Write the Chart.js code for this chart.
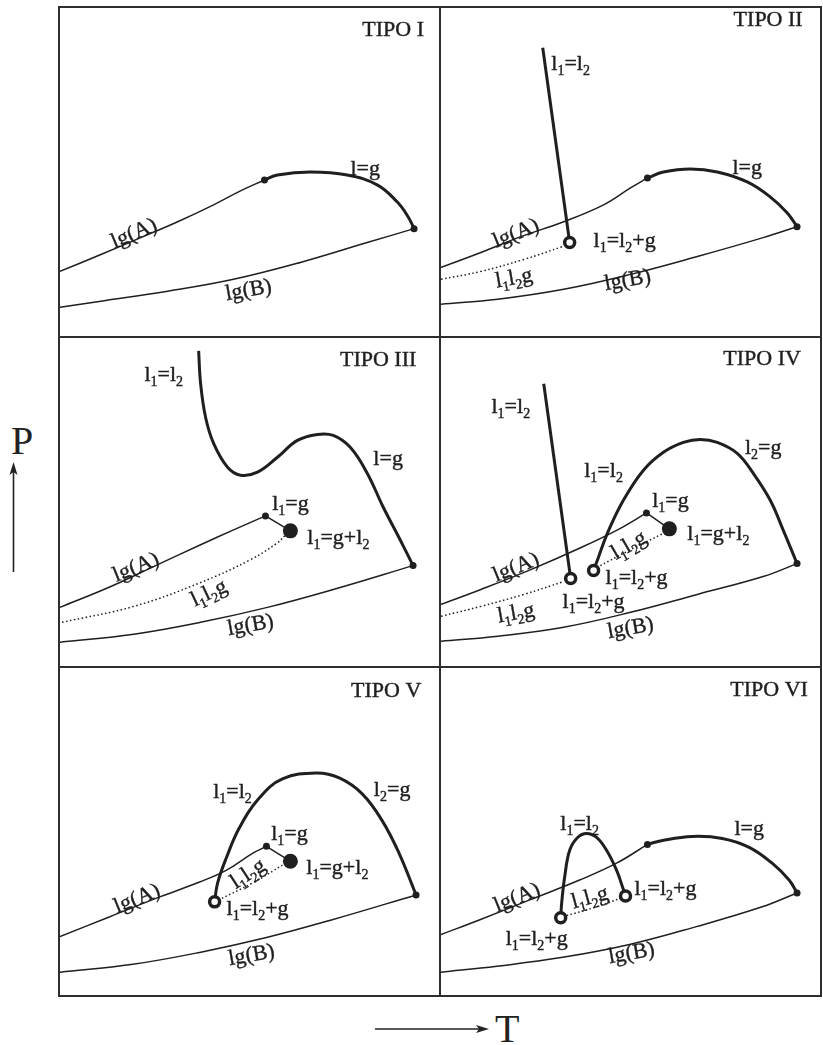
<!DOCTYPE html>
<html>
<head>
<meta charset="utf-8">
<script src="https://cdn.jsdelivr.net/npm/chart.js@4.4.0/dist/chart.umd.min.js"></script>
<style>
  body { margin: 0; background: #fff; width: 823px; height: 1045px; position: relative; overflow: hidden; font-family: 'Liberation Serif', serif; }
  #moldura { position: absolute; left: 58px; top: 6px; width: 764px; height: 991px; background: #2e2e2e; }
  .painel { position: absolute; background: #fff; }
  .painel canvas { display: block; }
  .eixo { position: absolute; color: #222; font-size: 40px; line-height: 40px; }
  svg { position: absolute; left: 0; top: 0; }
</style>
</head>
<body>
<div id="moldura"></div>
<div class="painel" style="left:60px;top:8px;width:379px;height:328px"><canvas id="tipo1"></canvas></div>
<div class="painel" style="left:441px;top:8px;width:379px;height:328px"><canvas id="tipo2"></canvas></div>
<div class="painel" style="left:60px;top:338px;width:379px;height:328px"><canvas id="tipo3"></canvas></div>
<div class="painel" style="left:441px;top:338px;width:379px;height:328px"><canvas id="tipo4"></canvas></div>
<div class="painel" style="left:60px;top:668px;width:379px;height:327px"><canvas id="tipo5"></canvas></div>
<div class="painel" style="left:441px;top:668px;width:379px;height:327px"><canvas id="tipo6"></canvas></div>

<div class="eixo" style="left:11px;top:421px">P</div>
<div class="eixo" style="left:495px;top:1009px">T</div>
<svg width="823" height="1045">
  <line x1="13.5" y1="572" x2="13.5" y2="470" stroke="#222" stroke-width="1.6"/>
  <polygon points="13.5,462 9.5,475 13.5,472 17.5,475" fill="#222"/>
  <line x1="375" y1="1029" x2="481" y2="1029" stroke="#222" stroke-width="1.6"/>
  <polygon points="489,1029 476,1025 479,1029 476,1033" fill="#222"/>
</svg>

<script>
// curvas de cada tipo: pares [T, P] em unidades arbitrárias (T 0-380, P 0-330)
var tipo1LgA = [[0,65],[41,82],[81,99],[118,115],[154,132],[181,146],[205,157]];
var tipo1LG = [[205,157],[218,162],[251,165],[288,162],[318,152],[338,135],[349,120],[355,108]];
var tipo1LgB = [[0,29],[41,35],[108,45],[174,57],[241,74],[308,94],[355,108]];
var tipo1Pontos = [[205,157],[355,108]];

var tipo2LgA = [[0,69],[40,84],[80,100],[123,115],[163,132],[190,149],[207,159]];
var tipo2LG = [[207,159],[223,165],[250,168],[277,165],[307,155],[330,140],[347,124],[357,110]];
var tipo2LgB = [[0,32],[57,37],[123,47],[190,62],[257,80],[323,99],[357,110]];
var tipo2L1L2 = [[102,290],[129,94]];
var tipo2Trifasica = [[0,57],[40,65],[83,77],[122,90]];
var tipo2Aberto = [[129,94]];
var tipo2Pontos = [[207,159],[357,110]];

var tipo3LgA = [[0,59],[51,80],[98,102],[141,122],[174,137],[206,151]];
var tipo3L1G = [[206,151],[231,136]];
var tipo3Trifasica = [[2,44],[74,60],[141,84],[191,107],[218,124],[228,134]];
var tipo3LgB = [[0,24],[74,32],[141,44],[208,59],[274,77],[354,101]];
var tipo3Critica = [[139,317],[141,284],[146,250],[154,224],[168,200],[181,192],[198,195],[218,210],[238,227],[258,233],[274,232],[291,220],[308,194],[324,160],[341,127],[354,101]];
var tipo3Pontos = [[206,151],[354,101]];
var tipo3Ucep = [[231,136]];

var tipo4LgA = [[0,62],[40,77],[90,97],[140,119],[177,137],[206,154]];
var tipo4L1G = [[206,154],[229,138]];
var tipo4TrifasicaSup = [[156,99],[190,117],[222,133]];
var tipo4LgB = [[0,25],[57,30],[123,39],[190,54],[257,72],[323,90],[357,103]];
var tipo4L1L2 = [[103,284],[130,88]];
var tipo4TrifasicaInf = [[0,50],[40,60],[83,72],[123,85]];
var tipo4Critica = [[153,96],[157,107],[167,134],[183,167],[203,197],[223,215],[243,225],[260,228],[277,225],[297,214],[313,194],[330,167],[343,137],[357,103]];
var tipo4Aberto = [[130,88],[153,96]];
var tipo4Pontos = [[206,154],[357,103]];
var tipo4Ucep = [[229,138]];

var tipo5LgA = [[0,59],[50,79],[100,99],[140,114],[167,126],[193,143],[207,150]];
var tipo5L1G = [[207,150],[231,135]];
var tipo5Trifasica = [[155,94],[193,113],[223,131]];
var tipo5Critica = [[155,94],[158,113],[167,139],[180,169],[200,199],[223,218],[257,224],[280,219],[303,203],[323,176],[340,143],[357,101]];
var tipo5LgB = [[0,23],[73,31],[140,43],[207,58],[273,76],[357,101]];
var tipo5Aberto = [[155,94]];
var tipo5Pontos = [[207,150],[357,101]];
var tipo5Ucep = [[231,135]];

var tipo6LgA = [[0,61],[39,76],[89,96],[139,116],[176,133],[207,152]];
var tipo6LG = [[207,152],[222,156],[252,160],[282,158],[309,149],[332,133],[349,116],[357,103]];
var tipo6LgB = [[0,23],[56,29],[122,38],[189,51],[256,69],[322,89],[357,103]];
var tipo6Critica = [[120,78],[121,93],[124,119],[129,146],[137,159],[146,163],[156,159],[166,146],[176,126],[182,109],[185,100]];
var tipo6Trifasica = [[122,79],[156,89],[181,98]];
var tipo6Aberto = [[120,78],[185,100]];
var tipo6Pontos = [[207,152],[357,103]];

// rótulos: texto ("_" marca índice), T, P, rotação, alinhamento
var tipo1Rotulos = [['TIPO I',334,309],['l=g',306,169],['lg(A)',74,104,-23],['lg(B)',189,47,-10]];
var tipo2Rotulos = [['TIPO II',328,319],['l_1=l_2',130,275],['l=g',307,170],['lg(A)',75,104,-22],
  ['l_1=l_2+g',153,97,0,'left'],['l_1l_2g',73,59,-10],['lg(B)',187,57,-10]];
var tipo3Rotulos = [['TIPO III',319,309],['l_1=l_2',104,294],['l=g',329,209],['l_1=g',231,164],
  ['l_1=g+l_2',248,130,0,'left'],['lg(A)',76,100,-22],['l_1l_2g',149,74,-25],['lg(B)',191,42,-10]];
var tipo4Rotulos = [['TIPO IV',322,310],['l_1=l_2',70,262],['l_1=l_2',163,197],['l_2=g',323,220],
  ['l_1=g',230,167],['l_1=g+l_2',247,134,0,'left'],['lg(A)',75,100,-22],['l_1=l_2+g',165,90,0,'left'],
  ['l_1=l_2+g',153,65],['l_1l_2g',188,122,-30],['l_1l_2g',75,54,-10],['lg(B)',190,39,-10]];
var tipo5Rotulos = [['TIPO V',327,308],['l_1=l_2',173,206],['l_2=g',333,208],['l_1=g',230,163],
  ['l_1=g+l_2',247,129,0,'left'],['lg(A)',77,98,-22],['l_1l_2g',188,123,-33],['l_1=l_2+g',167,88,0,'left'],
  ['lg(B)',192,41,-10]];
var tipo6Rotulos = [['TIPO VI',329,309],['l_1=l_2',139,174],['l=g',309,169],['l_1=l_2+g',194,108,0,'left'],
  ['lg(A)',76,99,-22],['l_1l_2g',149,99,-15],['l_1=l_2+g',96,58],['lg(B)',191,43,-10]];

var COR = '#1f1f1f';

function xy(pares) {
  return pares.map(function(p) { return { x: p[0], y: p[1] }; });
}

function fina(pares) {
  return { data: xy(pares), showLine: true, borderColor: COR, borderWidth: 1.5, tension: 0.4, pointRadius: 0 };
}
function grossa(pares, tensao) {
  return { data: xy(pares), showLine: true, borderColor: COR, borderWidth: 3, tension: tensao, pointRadius: 0 };
}
function pontilhada(pares) {
  return { data: xy(pares), showLine: true, borderColor: COR, borderWidth: 1.5, borderDash: [1.5, 2.5], tension: 0.4, pointRadius: 0 };
}
function pontos(pares, raio) {
  return { data: xy(pares), showLine: false, pointRadius: raio, backgroundColor: COR, borderColor: COR, borderWidth: 0 };
}
function abertos(pares) {
  return { data: xy(pares), showLine: false, pointRadius: 5, backgroundColor: '#fff', borderColor: COR, borderWidth: 3.5 };
}

function pedacos(texto) {
  var lista = [];
  for (var i = 0; i < texto.length; i++) {
    if (texto[i] === '_') { lista.push({ t: texto[i + 1], sub: true }); i++; }
    else lista.push({ t: texto[i], sub: false });
  }
  return lista;
}

var rotulosPlugin = {
  id: 'rotulos',
  afterDatasetsDraw: function(chart, args, opts) {
    var ctx = chart.ctx, sx = chart.scales.x, sy = chart.scales.y;
    var fonte = "22px 'Liberation Serif', serif", fonteSub = "14px 'Liberation Serif', serif";
    (opts.lista || []).forEach(function(r) {
      var partes = pedacos(r[0]);
      var largura = 0;
      partes.forEach(function(p) {
        ctx.font = p.sub ? fonteSub : fonte;
        p.w = ctx.measureText(p.t).width;
        largura += p.w;
      });
      ctx.save();
      ctx.translate(sx.getPixelForValue(r[1]), sy.getPixelForValue(r[2]));
      ctx.rotate((r[3] || 0) * Math.PI / 180);
      ctx.fillStyle = COR;
      ctx.strokeStyle = COR;
      ctx.lineWidth = 0.4;
      ctx.textBaseline = 'alphabetic';
      var x = r[4] === 'left' ? 0 : -largura / 2;
      partes.forEach(function(p) {
        ctx.font = p.sub ? fonteSub : fonte;
        var y = p.sub ? 12 : 7;
        ctx.fillText(p.t, x, y);
        ctx.strokeText(p.t, x, y);
        x += p.w;
      });
      ctx.restore();
    });
  }
};

function criarPainel(id, datasets, rotulos) {
  var ctx = document.getElementById(id).getContext('2d');
  return new Chart(ctx, {
    type: 'scatter',
    data: { datasets: datasets },
    options: {
      responsive: true,
      maintainAspectRatio: false,
      animation: false,
      events: [],
      layout: { padding: 0, autoPadding: false },
      scales: {
        x: { type: 'linear', min: 0, max: 380, display: false },
        y: { type: 'linear', min: 0, max: 330, display: false }
      },
      plugins: {
        legend: { display: false },
        tooltip: { enabled: false },
        rotulos: { lista: rotulos }
      }
    },
    plugins: [rotulosPlugin]
  });
}

criarPainel('tipo1', [
  pontos(tipo1Pontos, 3.5),
  fina(tipo1LgA), grossa(tipo1LG, 0.4), fina(tipo1LgB)
], tipo1Rotulos);

criarPainel('tipo2', [
  abertos(tipo2Aberto), pontos(tipo2Pontos, 3.5),
  fina(tipo2LgA), grossa(tipo2LG, 0.4), fina(tipo2LgB),
  grossa(tipo2L1L2, 0), pontilhada(tipo2Trifasica)
], tipo2Rotulos);

criarPainel('tipo3', [
  pontos(tipo3Ucep, 7.5), pontos(tipo3Pontos, 3.5),
  fina(tipo3LgA), fina(tipo3L1G), pontilhada(tipo3Trifasica),
  fina(tipo3LgB), grossa(tipo3Critica, 0.4)
], tipo3Rotulos);

criarPainel('tipo4', [
  abertos(tipo4Aberto), pontos(tipo4Ucep, 7.5), pontos(tipo4Pontos, 3.5),
  fina(tipo4LgA), fina(tipo4L1G), pontilhada(tipo4TrifasicaSup), fina(tipo4LgB),
  grossa(tipo4L1L2, 0), pontilhada(tipo4TrifasicaInf), grossa(tipo4Critica, 0.4)
], tipo4Rotulos);

criarPainel('tipo5', [
  abertos(tipo5Aberto), pontos(tipo5Ucep, 7.5), pontos(tipo5Pontos, 3.5),
  fina(tipo5LgA), fina(tipo5L1G), pontilhada(tipo5Trifasica),
  grossa(tipo5Critica, 0.4), fina(tipo5LgB)
], tipo5Rotulos);

criarPainel('tipo6', [
  abertos(tipo6Aberto), pontos(tipo6Pontos, 3.5),
  fina(tipo6LgA), grossa(tipo6LG, 0.4), fina(tipo6LgB),
  grossa(tipo6Critica, 0.4), pontilhada(tipo6Trifasica)
], tipo6Rotulos);
</script>
</body>
</html>
